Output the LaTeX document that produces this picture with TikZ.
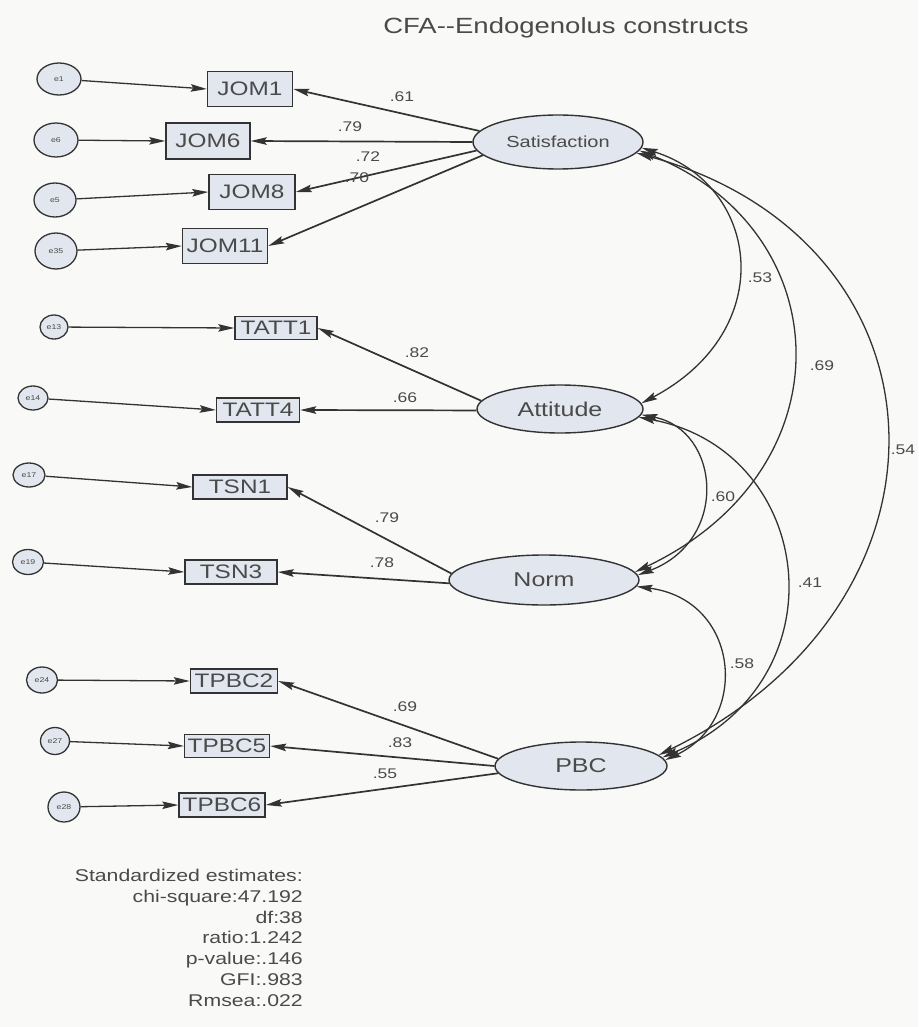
\documentclass[tikz,border=0pt]{standalone}
\usepackage{fontspec}
\newfontfamily\amos[FakeStretch=1.25]{Liberation Sans}
\usetikzlibrary{arrows.meta,shapes.geometric}
\definecolor{ink}{HTML}{333333}
\definecolor{txt}{HTML}{4A4A4A}
\definecolor{fillc}{HTML}{E2E6EE}
\definecolor{paper}{HTML}{F9F9F7}

\begin{document}
\begin{tikzpicture}[x=1pt,y=-1pt,
  amos/.tip={Stealth[length=16pt,width=7.5pt,inset=2.5pt]},
  obs/.style={draw=ink,fill=fillc,line width=1.4pt,inner sep=0pt,
    font=\amos\fontsize{19.5}{22}\selectfont,text=txt},
  lat/.style={ellipse,draw=ink,fill=fillc,line width=1.4pt,inner sep=0pt,
    font=\amos\fontsize{20}{24}\selectfont,text=txt},
  err/.style={ellipse,draw=ink,fill=fillc,line width=1.3pt,inner sep=0pt,
    font=\amos\fontsize{7}{8}\selectfont,text=txt},
  erra/.style={draw=ink,line width=1.3pt,-amos},
  load/.style={draw=ink,line width=1.7pt,-amos},
  cov/.style={draw=ink,line width=1.3pt,amos-amos},
  val/.style={font=\amos\fontsize{14}{16}\selectfont,text=txt,inner sep=0pt},
  caption/.style={font=\amos\fontsize{22}{26}\selectfont,text=txt,inner sep=0pt},
  stats/.style={font=\amos\fontsize{17}{20.8}\selectfont,text=txt,inner sep=0pt,align=right},
]
% page
\fill[paper] (0,0) rectangle (918,1027);
\useasboundingbox (0,0) rectangle (918,1027);

% title
\node[caption] (title) at (566,28) {CFA{-}{-}Endogenolus constructs};

% latent constructs
\node[lat,minimum width=170pt,minimum height=54pt,font=\amos\fontsize{16}{18}\selectfont] (sat) at (558,142) {Satisfaction};
\node[lat,minimum width=166pt,minimum height=48pt] (att) at (560,409) {Attitude};
\node[lat,minimum width=190pt,minimum height=50pt] (norm) at (544,580) {Norm};
\node[lat,minimum width=172pt,minimum height=48pt] (pbc) at (581,766) {PBC};

% indicators
\node[obs,minimum width=85pt,minimum height=35pt] (jom1) at (250,89) {JOM1};
\node[obs,minimum width=84pt,minimum height=36pt] (jom6) at (208,141) {JOM6};
\node[obs,minimum width=86pt,minimum height=35pt] (jom8) at (252,192) {JOM8};
\node[obs,minimum width=85pt,minimum height=35pt] (jom11) at (225,246) {JOM11};
\node[obs,minimum width=82pt,minimum height=23pt] (tatt1) at (276,328) {TATT1};
\node[obs,minimum width=83pt,minimum height=24pt] (tatt4) at (258,410) {TATT4};
\node[obs,minimum width=94pt,minimum height=24pt] (tsn1) at (240,487) {TSN1};
\node[obs,minimum width=92pt,minimum height=24pt] (tsn3) at (231,572) {TSN3};
\node[obs,minimum width=87pt,minimum height=24pt] (tpbc2) at (234,681) {TPBC2};
\node[obs,minimum width=85pt,minimum height=23pt] (tpbc5) at (227,746) {TPBC5};
\node[obs,minimum width=86pt,minimum height=24pt] (tpbc6) at (222,805) {TPBC6};

% error terms
\node[err,minimum width=44pt,minimum height=32pt] (e1) at (59,79) {e1};
\node[err,minimum width=44pt,minimum height=34pt] (e6) at (56,140) {e6};
\node[err,minimum width=42pt,minimum height=34pt] (e5) at (55,200) {e5};
\node[err,minimum width=42pt,minimum height=36pt] (e35) at (56,251) {e35};
\node[err,minimum width=28pt,minimum height=24pt] (e13) at (54,327) {e13};
\node[err,minimum width=30pt,minimum height=24pt] (e14) at (33,398) {e14};
\node[err,minimum width=32pt,minimum height=24pt] (e17) at (29,475) {e17};
\node[err,minimum width=31pt,minimum height=25pt] (e19) at (28,562) {e19};
\node[err,minimum width=31pt,minimum height=26pt] (e24) at (42,680) {e24};
\node[err,minimum width=29pt,minimum height=27pt] (e27) at (55,741) {e27};
\node[err,minimum width=32pt,minimum height=30pt] (e28) at (64,807) {e28};

% error paths
\draw[erra] (e1) -- (jom1.west);
\draw[erra] (e6) -- (jom6.west);
\draw[erra] (e5) -- (jom8.west);
\draw[erra] (e35) -- (jom11.west);
\draw[erra] (e13) -- (tatt1.west);
\draw[erra] (e14) -- (tatt4.west);
\draw[erra] (e17) -- (tsn1.west);
\draw[erra] (e19) -- (tsn3.west);
\draw[erra] (e24) -- (tpbc2.west);
\draw[erra] (e27) -- (tpbc5.west);
\draw[erra] (e28) -- (tpbc6.west);

% factor loadings
\draw[load] (sat.172) -- (jom1.east);
\draw[load] (sat.180) -- (jom6.east);
\draw[load] (sat.186) -- (jom8.east);
\draw[load] (sat.190) -- (jom11.east);
\draw[load] (att.174) -- (tatt1.east);
\draw[load] (att.181) -- (tatt4.east);
\draw[load] (norm.176) -- (tsn1.east);
\draw[load] (norm.182) -- (tsn3.east);
\draw[load] (pbc.175) -- (tpbc2.east);
\draw[load] (pbc.180) -- (tpbc5.east);
\draw[load] (pbc.185) -- (tpbc6.east);

\node[val] (l1) at (402,97) {.61};
\node[val] (l2) at (350,127) {.79};
\node[val] (l3) at (368,157) {.72};
\node[val] (l4) at (357,178) {.70};
\node[val] (l5) at (417,353) {.82};
\node[val] (l6) at (405,398) {.66};
\node[val] (l7) at (387,518) {.79};
\node[val] (l8) at (382,563) {.78};
\node[val] (l9) at (405,707) {.69};
\node[val] (l10) at (400,743) {.83};
\node[val] (l11) at (385,774) {.55};

% covariances
\draw[cov] (sat.-4) .. controls (760,185) and (780,330) .. (att.4);
\draw[cov] (sat.-6) .. controls (840,230) and (850,470) .. (norm.5);
\draw[cov] (sat.-8) .. controls (955,240) and (975,600) .. (pbc.8);
\draw[cov] (att.-4) .. controls (720,430) and (730,540) .. (norm.3);
\draw[cov] (att.-6) .. controls (815,450) and (845,680) .. (pbc.6);
\draw[cov] (norm.-4) .. controls (740,600) and (750,720) .. (pbc.4);

\node[val] (c1) at (760,278) {.53};
\node[val] (c2) at (822,366) {.69};
\node[val] (c3) at (903,450) {.54};
\node[val] (c4) at (723,497) {.60};
\node[val] (c5) at (810,583) {.41};
\node[val] (c6) at (742,664) {.58};

% fit summary
\node[stats,anchor=north east] (fit) at (303,869) {Standardized estimates:\\chi-square:47.192\\df:38\\ratio:1.242\\p-value:.146\\GFI:.983\\Rmsea:.022};
\end{tikzpicture}
\end{document}
